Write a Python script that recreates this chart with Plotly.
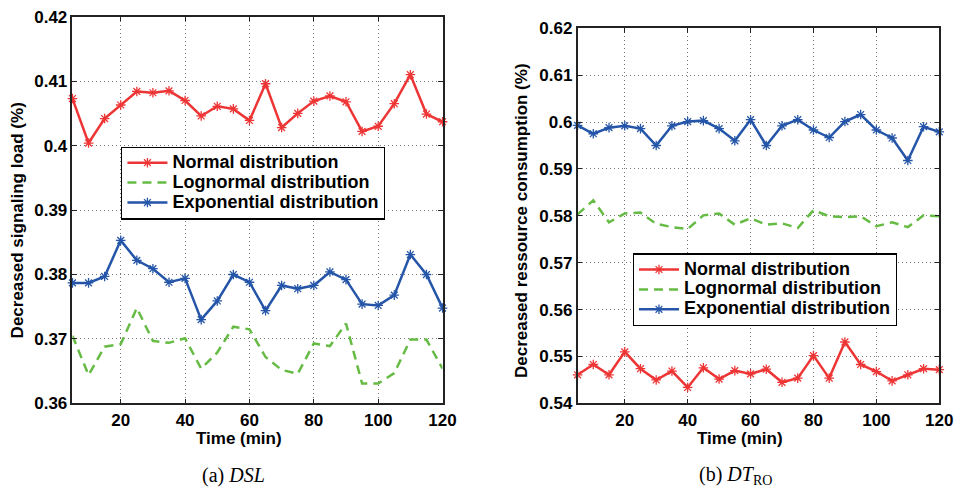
import plotly.graph_objects as go

# Time axis (minutes)
time_min = [5, 10, 15, 20, 25, 30, 35, 40, 45, 50, 55, 60,
            65, 70, 75, 80, 85, 90, 95, 100, 105, 110, 115, 120]

# (a) Decreased signaling load (%)
dsl_normal = [0.4073, 0.4004, 0.4042, 0.4063, 0.4084, 0.4082, 0.4085, 0.4070,
              0.4046, 0.4061, 0.4057, 0.4039, 0.4096, 0.4028, 0.4050, 0.4069,
              0.4077, 0.4068, 0.4022, 0.4030, 0.4065, 0.4110, 0.4049, 0.4037]
dsl_lognormal = [0.3705, 0.3644, 0.3688, 0.3692, 0.3748, 0.3697, 0.3694, 0.3701,
                 0.3654, 0.3679, 0.3719, 0.3715, 0.3672, 0.3652, 0.3646, 0.3693,
                 0.3689, 0.3724, 0.3631, 0.3631, 0.3647, 0.3699, 0.3699, 0.3654]
dsl_exponential = [0.3787, 0.3787, 0.3797, 0.3853, 0.3822, 0.3809, 0.3788, 0.3794,
                   0.3730, 0.3759, 0.3800, 0.3788, 0.3744, 0.3783, 0.3778, 0.3783,
                   0.3804, 0.3792, 0.3754, 0.3752, 0.3768, 0.3831, 0.3800, 0.3748]

# (b) Decreased resource consumption (%)
dtro_normal = [0.5461, 0.5483, 0.5461, 0.5510, 0.5474, 0.5450, 0.5469, 0.5434,
               0.5476, 0.5452, 0.5470, 0.5463, 0.5473, 0.5445, 0.5454, 0.5502,
               0.5454, 0.5531, 0.5483, 0.5468, 0.5448, 0.5461, 0.5474, 0.5472]
dtro_lognormal = [0.5803, 0.5833, 0.5786, 0.5805, 0.5807, 0.5783, 0.5776, 0.5772,
                  0.5801, 0.5805, 0.5781, 0.5795, 0.5781, 0.5784, 0.5774, 0.5812,
                  0.5799, 0.5797, 0.5799, 0.5778, 0.5786, 0.5776, 0.5801, 0.5799]
dtro_exponential = [0.5993, 0.5975, 0.5988, 0.5992, 0.5986, 0.5950, 0.5992, 0.6001,
                    0.6003, 0.5986, 0.5960, 0.6005, 0.5950, 0.5992, 0.6005, 0.5983,
                    0.5967, 0.6001, 0.6016, 0.5983, 0.5966, 0.5918, 0.5990, 0.5979]

series_names = ["Normal distribution", "Lognormal distribution", "Exponential distribution"]

x_tickvals = [20, 40, 60, 80, 100, 120]
x_ticktext = ["20", "40", "60", "80", "100", "120"]
dsl_tickvals = [0.36, 0.37, 0.38, 0.39, 0.40, 0.41, 0.42]
dsl_ticktext = ["0.36", "0.37", "0.38", "0.39", "0.4", "0.41", "0.42"]
dtro_tickvals = [0.54, 0.55, 0.56, 0.57, 0.58, 0.59, 0.60, 0.61, 0.62]
dtro_ticktext = ["0.54", "0.55", "0.56", "0.57", "0.58", "0.59", "0.6", "0.61", "0.62"]

RED = "#EE3535"
GREEN = "#66BB44"
BLUE = "#2455A8"
FONT = "Liberation Sans"


def bold(labels):
    return ["<b>%s</b>" % t for t in labels]


def legend_label(text):
    # larger glyphs inside a compact legend row
    return '<span style="font-size:18px"><b>%s</b></span>' % text


fig = go.Figure()


def add_series(xa, ya, leg, normal, lognormal, expo):
    fig.add_trace(go.Scatter(
        x=time_min, y=normal, name=legend_label(series_names[0]), xaxis=xa, yaxis=ya,
        legend=leg, mode="lines+markers", cliponaxis=False,
        line=dict(color=RED, width=2.5),
        marker=dict(symbol="asterisk-open", size=8, color=RED,
                    line=dict(color=RED, width=1.3))))
    fig.add_trace(go.Scatter(
        x=time_min, y=lognormal, name=legend_label(series_names[1]), xaxis=xa, yaxis=ya,
        legend=leg, mode="lines", cliponaxis=False,
        line=dict(color=GREEN, width=2.5, dash="9px,6px")))
    fig.add_trace(go.Scatter(
        x=time_min, y=expo, name=legend_label(series_names[2]), xaxis=xa, yaxis=ya,
        legend=leg, mode="lines+markers", cliponaxis=False,
        line=dict(color=BLUE, width=2.5),
        marker=dict(symbol="asterisk-open", size=8, color=BLUE,
                    line=dict(color=BLUE, width=1.3))))


add_series("x", "y", "legend", dsl_normal, dsl_lognormal, dsl_exponential)
add_series("x2", "y2", "legend2", dtro_normal, dtro_lognormal, dtro_exponential)

tickfont = dict(family=FONT, size=17, color="black")
common = dict(
    showline=True, linecolor="#222222", linewidth=1.5, mirror="ticks",
    ticks="inside", ticklen=5, tickcolor="#222222", tickwidth=1.2,
    showgrid=True, gridcolor="#777777", gridwidth=1, griddash="1px,3px",
    zeroline=False, tickfont=tickfont,
)

legend_style = dict(
    bgcolor="white", bordercolor="black", borderwidth=1.2,
    font=dict(family=FONT, size=13, color="black"),
    xanchor="left", yanchor="top", tracegroupgap=0, itemwidth=40,
)

fig.update_layout(
    width=975, height=500,
    margin=dict(l=0, r=0, t=0, b=0),
    paper_bgcolor="white", plot_bgcolor="white",
    showlegend=True,
    xaxis=dict(domain=[0.0754, 0.4605], range=[5, 120],
               tickvals=x_tickvals, ticktext=bold(x_ticktext), anchor="y", **common),
    yaxis=dict(domain=[0.18, 0.984], range=[0.36, 0.42],
               tickvals=dsl_tickvals, ticktext=bold(dsl_ticktext), anchor="x", **common),
    xaxis2=dict(domain=[0.601, 0.9774], range=[5, 120],
                tickvals=x_tickvals, ticktext=bold(x_ticktext), anchor="y2", **common),
    yaxis2=dict(domain=[0.18, 0.96], range=[0.54, 0.62],
                tickvals=dtro_tickvals, ticktext=bold(dtro_ticktext), anchor="x2", **common),
    legend=dict(x=123 / 975, y=1 - 143 / 500, **legend_style),
    legend2=dict(x=642 / 975, y=1 - 254 / 500, **legend_style),
)

label_font = dict(family=FONT, size=17, color="black")
caption_font = dict(family="Liberation Serif", size=20, color="black")

annotations = [
    dict(text="<b>Time (min)</b>", x=242 / 975, y=1 - 446 / 500, xref="paper", yref="paper",
         showarrow=False, font=label_font, xanchor="center", yanchor="middle"),
    dict(text="<b>Time (min)</b>", x=751 / 975, y=1 - 446 / 500, xref="paper", yref="paper",
         showarrow=False, font=label_font, xanchor="center", yanchor="middle"),
    dict(text="<b>Decreased signaling load (%)</b>", x=18 / 975, y=1 - 220 / 500,
         xref="paper", yref="paper", showarrow=False, textangle=-90,
         font=label_font, xanchor="center", yanchor="middle"),
    dict(text="<b>Decreased ressource consumption (%)</b>", x=529 / 975, y=1 - 220 / 500,
         xref="paper", yref="paper", showarrow=False, textangle=-90,
         font=label_font, xanchor="center", yanchor="middle"),
    dict(text="(a) <i>DSL</i>", x=237 / 975, y=1 - 485 / 500, xref="paper", yref="paper",
         showarrow=False, font=caption_font, xanchor="center", yanchor="middle"),
    dict(text="(b) <i>DT</i><sub>RO</sub>", x=746 / 975, y=1 - 485 / 500, xref="paper",
         yref="paper", showarrow=False, font=caption_font, xanchor="center",
         yanchor="middle"),
]
fig.update_layout(annotations=annotations)

fig.write_html("out.html")
